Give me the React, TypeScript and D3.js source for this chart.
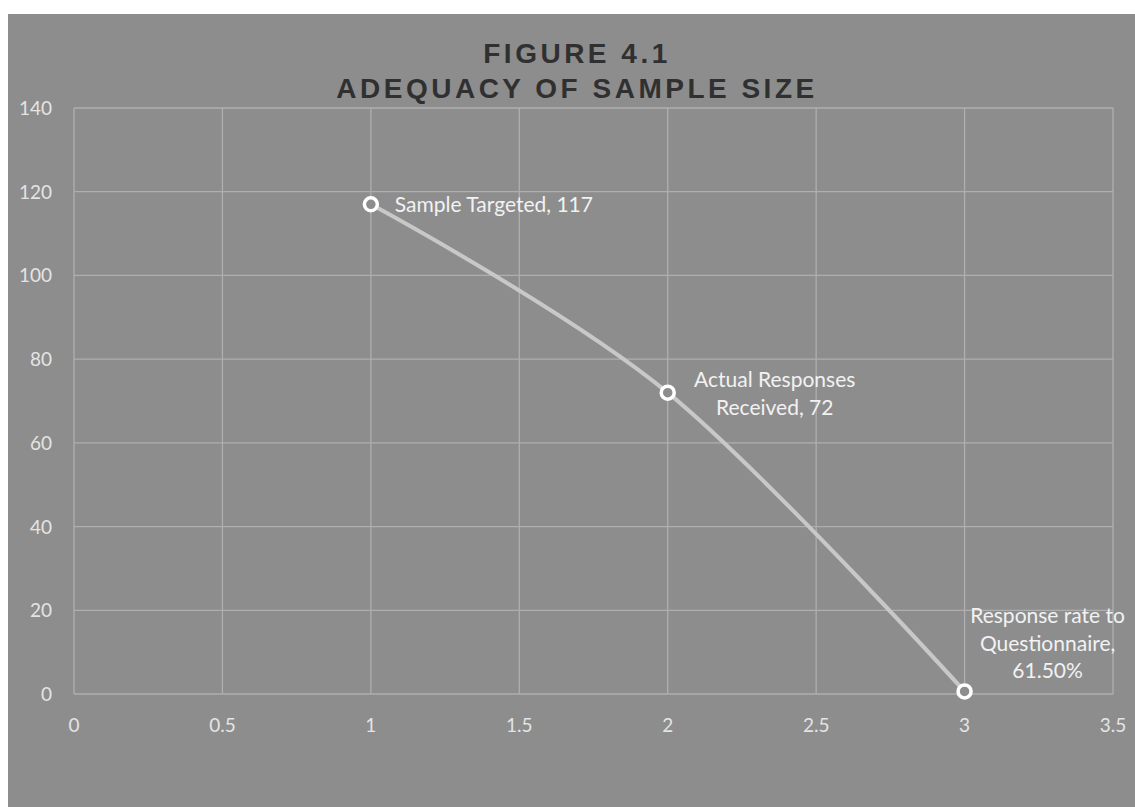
import React from "react";
import * as d3 from "d3";

const xValues = [1, 2, 3];
const yValues = [117, 72, 0.615];
const pointLabels = [
  ["Sample Targeted, 117"],
  ["Actual Responses", "Received, 72"],
  ["Response rate to", "Questionnaire,", "61.50%"],
];
const xTicks = [0, 0.5, 1, 1.5, 2, 2.5, 3, 3.5];
const yTicks = [0, 20, 40, 60, 80, 100, 120, 140];
const titleLines = ["FIGURE 4.1", "ADEQUACY OF SAMPLE SIZE"];

const W = 1135;
const H = 807;

export default function App() {
  const x = d3.scaleLinear().domain([0, 3.5]).range([74, 1113]);
  const y = d3.scaleLinear().domain([0, 140]).range([694, 108]);
  const line = d3
    .line<number>()
    .x((_, i) => x(xValues[i]))
    .y((d) => y(d))
    .curve(d3.curveCardinal.tension(0));
  const labelFont = "Lato, 'Open Sans', sans-serif";
  const labelSize = 21;
  return (
    <svg
      width={W}
      height={H}
      style={{ position: "absolute", left: 0, top: 0, display: "block" }}
    >
      <rect x={0} y={0} width={W} height={H} fill="#ffffff" />
      <rect x={8} y={14} width={W - 8} height={H - 14} fill="#8d8d8d" />
      {/* grid */}
      {yTicks.map((t) => (
        <line
          key={"gy" + t}
          x1={x(0)}
          x2={x(3.5)}
          y1={y(t)}
          y2={y(t)}
          stroke="#afafaf"
          strokeWidth={1.3}
        />
      ))}
      {xTicks.map((t) => (
        <line
          key={"gx" + t}
          x1={x(t)}
          x2={x(t)}
          y1={y(0)}
          y2={y(140)}
          stroke="#afafaf"
          strokeWidth={1.3}
        />
      ))}
      {/* tick labels */}
      {yTicks.map((t) => (
        <text
          key={"ty" + t}
          x={52}
          y={y(t) + 7}
          textAnchor="end"
          fontFamily={labelFont}
          fontSize={19}
          fill="#e4e4e4"
        >
          {t}
        </text>
      ))}
      {xTicks.map((t) => (
        <text
          key={"tx" + t}
          x={x(t)}
          y={y(0) + 38}
          textAnchor="middle"
          fontFamily={labelFont}
          fontSize={19}
          fill="#e4e4e4"
        >
          {t}
        </text>
      ))}
      {/* title */}
      {titleLines.map((s, i) => (
        <text
          key={"title" + i}
          x={577}
          y={63 + i * 35}
          textAnchor="middle"
          fontFamily="'Liberation Sans', Arial, sans-serif"
          fontWeight="bold"
          fontSize={28}
          letterSpacing={3.5}
          fill="#303030"
        >
          {s}
        </text>
      ))}
      {/* line */}
      <path
        d={line(yValues) || ""}
        fill="none"
        stroke="#c8c8c8"
        strokeWidth={4}
      />
      {yValues.map((v, i) => (
        <circle
          key={"pt" + i}
          cx={x(xValues[i])}
          cy={y(v)}
          r={6.5}
          fill="#8d8d8d"
          stroke="#ffffff"
          strokeWidth={3.5}
        />
      ))}
      {/* data labels */}
      <text
        x={x(xValues[0]) + 24}
        y={y(yValues[0]) + 8}
        fontFamily={labelFont}
        fontSize={labelSize}
        fill="#f2f2f2"
      >
        {pointLabels[0][0]}
      </text>
      {pointLabels[1].map((s, j) => (
        <text
          key={"l1" + j}
          x={x(xValues[1]) + 107}
          y={y(yValues[1]) - 6 + j * 28}
          textAnchor="middle"
          fontFamily={labelFont}
          fontSize={labelSize}
          fill="#f2f2f2"
        >
          {s}
        </text>
      ))}
      {pointLabels[2].map((s, j) => (
        <text
          key={"l2" + j}
          x={x(xValues[2]) + 83}
          y={y(yValues[2]) - 68 + j * 27.5}
          textAnchor="middle"
          fontFamily={labelFont}
          fontSize={labelSize}
          fill="#f2f2f2"
        >
          {s}
        </text>
      ))}
    </svg>
  );
}
